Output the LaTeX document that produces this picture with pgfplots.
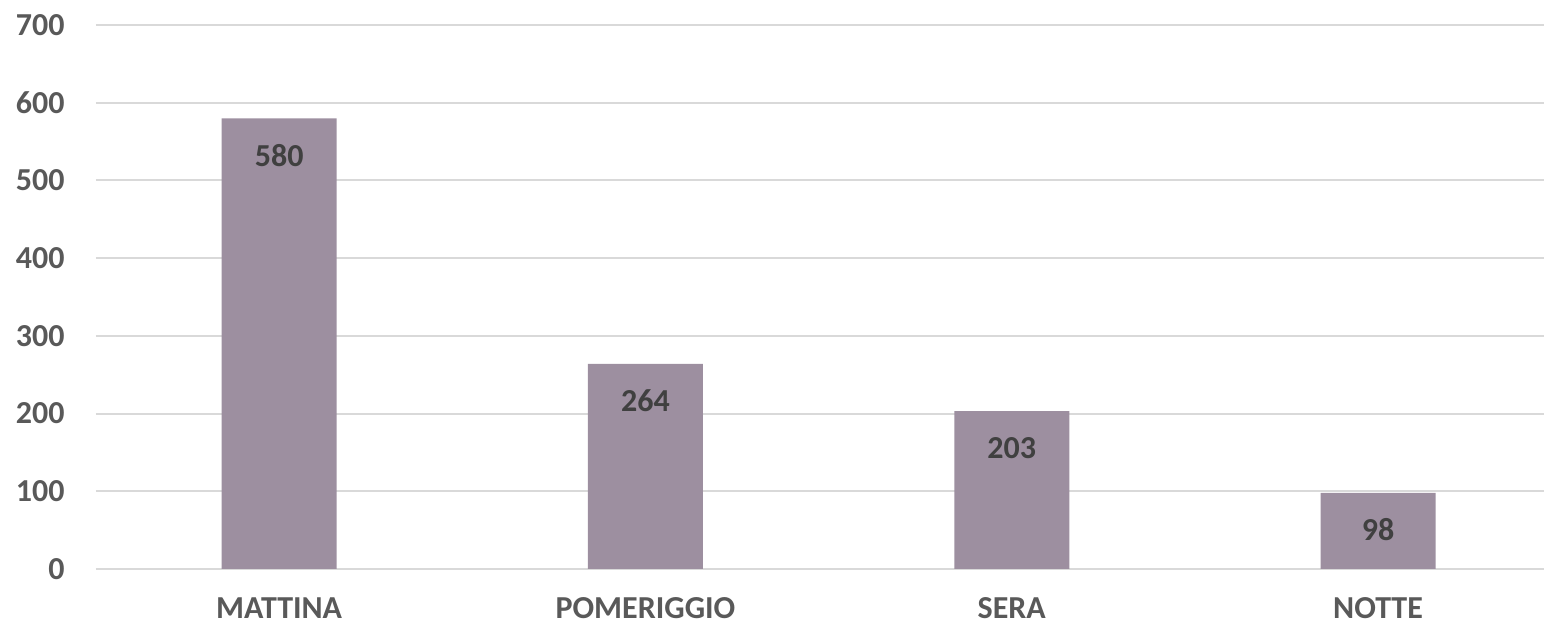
\documentclass[border=0pt]{standalone}
\usepackage{fontspec}
\setmainfont{Carlito}
\usepackage{pgfplots}
\pgfplotsset{compat=1.18}
\definecolor{barmauve}{RGB}{157,143,160}
\definecolor{gridgray}{RGB}{217,217,217}
\definecolor{ticktext}{RGB}{89,89,89}
\definecolor{valtext}{RGB}{64,64,64}

\begin{document}
\begin{tikzpicture}
\begin{axis}[
    scale only axis,
    width=724pt,
    height=272pt,
    ybar,
    bar width=57.5pt,
    xmin=-0.5, xmax=3.453,
    ymin=0, ymax=700,
    xtick=data,
    xticklabels={MATTINA,POMERIGGIO,SERA,NOTTE},
    ytick={0,100,200,300,400,500,600,700},
    major tick length=0pt,
    axis line style={draw=none},
    ymajorgrids,
    grid style={gridgray, line width=1pt},
    /pgf/number format/assume math mode=true,
    tick label style={font=\fontsize{16}{18}\selectfont\bfseries, text=ticktext, inner sep=0pt},
    yticklabel style={anchor=east, xshift=-15.5pt},
    xticklabel style={anchor=north, yshift=-14pt},
    nodes near coords,
    every node near coord/.append style={font=\fontsize{16}{18}\selectfont\bfseries, text=valtext, anchor=center, yshift=-18.5pt},
]
\addplot[fill=barmauve, draw=none] coordinates {(0,580) (1,264) (2,203) (3,98)};
\end{axis}
\pgfresetboundingbox
\path ([xshift=-48pt, yshift=-27.5pt]current axis.south west) rectangle ([yshift=12.5pt]current axis.north east);
\end{tikzpicture}
\end{document}
